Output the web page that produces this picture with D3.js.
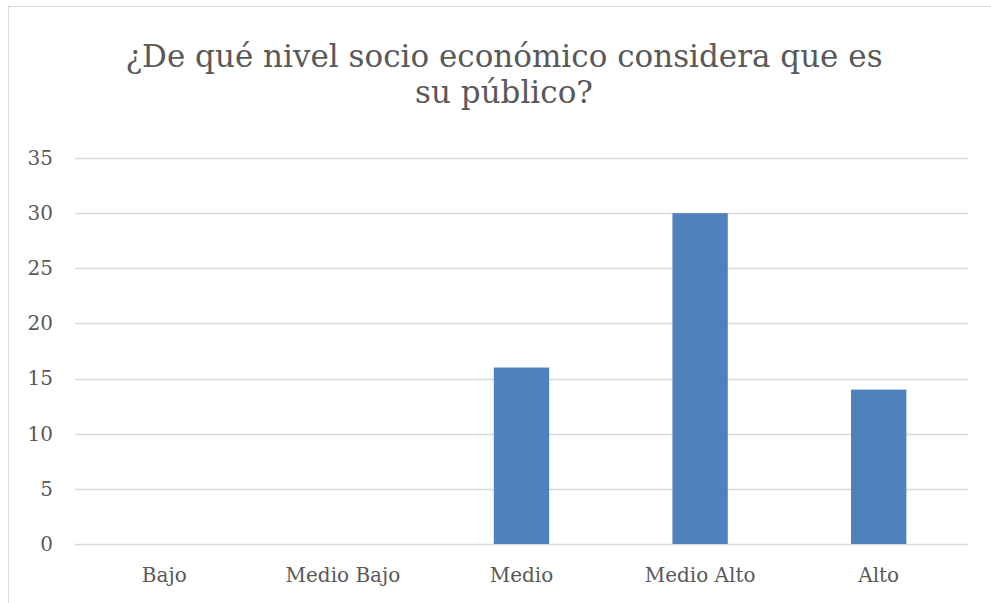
<!DOCTYPE html>
<html>
<head>
<meta charset="utf-8">
<script src="https://cdn.jsdelivr.net/npm/d3@7"></script>
<style>
  html, body { margin: 0; padding: 0; background: #fff; }
  svg { display: block; }
</style>
</head>
<body>
<svg id="chart" width="991" height="603"></svg>
<script>
// Survey answers: perceived socio-economic level of the audience
const categories = ["Bajo", "Medio Bajo", "Medio", "Medio Alto", "Alto"];
const counts = [0, 0, 16, 30, 14];
const yTicks = [0, 5, 10, 15, 20, 25, 30, 35];
const titleLines = ["¿De qué nivel socio económico considera que es", "su público?"];

const W = 991, H = 603;
const margin = { left: 75, right: 23, top: 158, bottom: 59 };
const FONT = "'DejaVu Serif', 'Liberation Serif', serif";
const TEXT = "#595959";

const svg = d3.select("#chart");

// outer chart frame
svg.append("rect")
  .attr("x", 8.5).attr("y", 6.5)
  .attr("width", W - 8).attr("height", H)
  .attr("fill", "#fff").attr("stroke", "#d9d9d9").attr("stroke-width", 1);

const x = d3.scaleBand()
  .domain(categories)
  .range([margin.left, W - margin.right])
  .paddingInner(0.69).paddingOuter(0.345);

const y = d3.scaleLinear()
  .domain([0, 35])
  .range([H - margin.bottom, margin.top]);

// horizontal gridlines
svg.append("g")
  .selectAll("line")
  .data(yTicks)
  .join("line")
  .attr("x1", margin.left).attr("x2", W - margin.right)
  .attr("y1", d => Math.round(y(d)) + 0.5).attr("y2", d => Math.round(y(d)) + 0.5)
  .attr("stroke", "#d9d9d9").attr("stroke-width", 1.3);

// y-axis labels
const yAxis = d3.axisLeft(y).tickValues(yTicks).tickSize(0).tickPadding(22);
const gy = svg.append("g").attr("transform", `translate(${margin.left},0)`).call(yAxis);
gy.select(".domain").remove();
gy.selectAll("text")
  .attr("font-family", FONT).attr("font-size", 20).attr("fill", TEXT);

// bars
svg.append("g")
  .selectAll("rect")
  .data(categories.map((c, i) => ({ c, v: counts[i] })))
  .join("rect")
  .attr("x", d => x(d.c))
  .attr("width", x.bandwidth())
  .attr("y", d => y(d.v))
  .attr("height", d => y(0) - y(d.v))
  .attr("fill", "#4f81bd");

// x-axis labels
const xAxis = d3.axisBottom(x).tickSize(0);
const gx = svg.append("g").attr("transform", `translate(0,${y(0)})`).call(xAxis);
gx.select(".domain").remove();
gx.selectAll("text")
  .attr("y", 38).attr("dy", 0)
  .attr("font-family", FONT).attr("font-size", 20).attr("fill", TEXT);

// title
svg.append("text")
  .attr("text-anchor", "middle")
  .attr("font-family", FONT).attr("font-size", 31).attr("fill", TEXT)
  .selectAll("tspan")
  .data(titleLines)
  .join("tspan")
  .attr("x", 504)
  .attr("y", (d, i) => 67 + i * 36)
  .text(d => d);
</script>
</body>
</html>
